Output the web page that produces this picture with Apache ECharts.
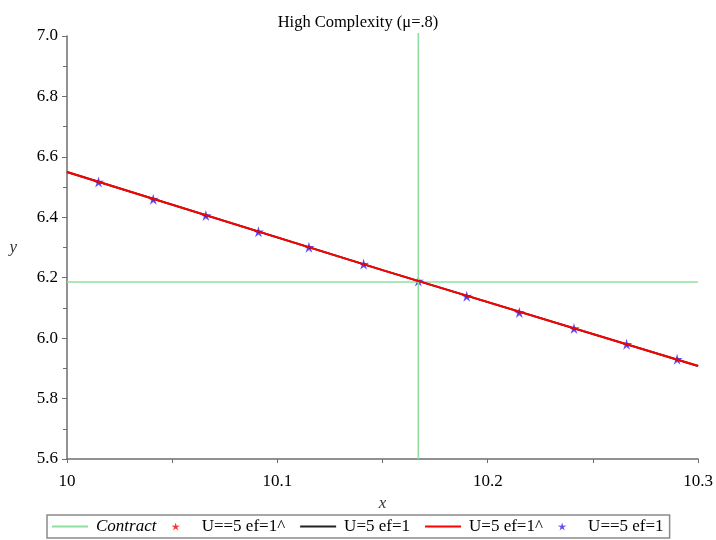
<!DOCTYPE html>
<html>
<head>
<meta charset="utf-8">
<script src="https://cdn.jsdelivr.net/npm/echarts@6/dist/echarts.min.js"></script>
<style>
  html, body { margin: 0; padding: 0; background: #fff; }
  #chart { width: 716px; height: 540px; }
</style>
</head>
<body>
<div id="chart"></div>
<script>
// Sample points (stars) along the curve
const starX = [10.015, 10.041, 10.066, 10.091, 10.115, 10.141, 10.167, 10.190, 10.215, 10.241, 10.266, 10.290];
const starY = [6.517, 6.460, 6.406, 6.352, 6.301, 6.245, 6.189, 6.139, 6.085, 6.032, 5.980, 5.930];

// Continuous curve
const curveX = [10.0, 10.15, 10.3];
const curveY = [6.550, 6.225, 5.908];

// Contract point
const contractX = 10.167;
const contractY = 6.186;

// Axis ranges
const xRange = [10.0, 10.3];
const yRange = [5.6, 7.0];

const FONT = '"Liberation Serif", "Times New Roman", serif';
const GREEN = '#8fe0a0';
const RED = '#ff0000';
const BLUE = '#3a22f0';

// Five-armed star, like a plotted asterisk
function starPath() {
  const pts = [];
  for (let i = 0; i < 10; i++) {
    const r = i % 2 === 0 ? 10 : 3.6;
    const a = -Math.PI / 2 + i * Math.PI / 5;
    pts.push((10 + r * Math.cos(a)).toFixed(2) + ' ' + (10 + r * Math.sin(a)).toFixed(2));
  }
  return 'path://M' + pts.join(' L') + ' Z';
}
const STAR = starPath();
const LINE_ICON = 'path://M0 0H36V2H0Z';

const pairs = (xs, ys) => xs.map((x, i) => [x, ys[i]]);

const chart = echarts.init(document.getElementById('chart'), null, { renderer: 'canvas' });

const axisColor = '#6e6e6e';

chart.setOption({
  animation: false,
  backgroundColor: '#fff',
  title: {
    text: 'High Complexity (\u03bc=.8)',
    left: 'center',
    top: 9,
    textStyle: { fontFamily: FONT, fontSize: 16.5, fontWeight: 'normal', color: '#000' }
  },
  grid: { left: 67, right: 14, top: 36, bottom: 81, containLabel: false },
  xAxis: {
    type: 'value',
    min: xRange[0], max: xRange[1], interval: 0.1,
    name: 'x', nameLocation: 'middle', nameGap: 34,
    nameTextStyle: { fontFamily: FONT, fontSize: 17, fontStyle: 'italic', color: '#333' },
    axisLine: { show: true, onZero: false, lineStyle: { color: axisColor, width: 1.5 } },
    axisTick: { show: true, length: 4, lineStyle: { color: axisColor } },
    minorTick: { show: true, splitNumber: 2, length: 4, lineStyle: { color: axisColor } },
    splitLine: { show: false },
    axisLabel: {
      fontFamily: FONT, fontSize: 17, color: '#000', margin: 14,
      formatter: v => (Math.abs(v - 10) < 1e-9 ? '10' : v.toFixed(1))
    }
  },
  yAxis: {
    type: 'value',
    min: yRange[0], max: yRange[1], interval: 0.2,
    name: 'y', nameLocation: 'middle', nameGap: 50, nameRotate: 0,
    nameTextStyle: { fontFamily: FONT, fontSize: 17, fontStyle: 'italic', color: '#333' },
    axisLine: { show: true, onZero: false, lineStyle: { color: axisColor, width: 1.5 } },
    axisTick: { show: true, length: 5, lineStyle: { color: axisColor } },
    minorTick: { show: true, splitNumber: 2, length: 4, lineStyle: { color: axisColor } },
    splitLine: { show: false },
    axisLabel: {
      fontFamily: FONT, fontSize: 17, color: '#000', margin: 9,
      formatter: v => v.toFixed(1)
    }
  },
  legend: {
    left: 47, top: 515,
    padding: [3, 6, 3, 5],
    itemGap: 15, itemWidth: 36, itemHeight: 8,
    borderColor: '#8a8a8a', borderWidth: 1.5,
    textStyle: { fontFamily: FONT, fontSize: 17, color: '#000', padding: [0, 0, 0, 3] },
    data: [
      { name: 'Contract', icon: LINE_ICON, textStyle: { fontStyle: 'italic' } },
      { name: 'U==5 ef=1^', icon: STAR, itemStyle: { color: RED } },
      { name: 'U=5 ef=1', icon: LINE_ICON },
      { name: 'U=5 ef=1^', icon: LINE_ICON },
      { name: 'U==5 ef=1', icon: STAR, itemStyle: { color: BLUE } }
    ]
  },
  series: [
    {
      name: 'Contract', type: 'line', symbol: 'none', silent: true, clip: false,
      lineStyle: { color: GREEN, width: 1.6 }, itemStyle: { color: GREEN },
      data: [[xRange[0], contractY], [xRange[1], contractY]]
    },
    {
      name: 'Contract', type: 'line', symbol: 'none', silent: true, clip: false,
      lineStyle: { color: GREEN, width: 1.6 }, itemStyle: { color: GREEN },
      data: [[contractX, yRange[0]], [contractX, yRange[1] + 0.01]]
    },
    {
      name: 'U=5 ef=1', type: 'line', symbol: 'none',
      lineStyle: { color: '#222', width: 2 }, itemStyle: { color: '#222' },
      data: pairs(curveX, curveY)
    },
    {
      name: 'U=5 ef=1^', type: 'line', symbol: 'none',
      lineStyle: { color: RED, width: 2 }, itemStyle: { color: RED },
      data: pairs(curveX, curveY)
    },
    {
      name: 'U==5 ef=1^', type: 'scatter', symbol: STAR, symbolSize: 5,
      itemStyle: { color: RED },
      data: pairs(starX, starY)
    },
    {
      name: 'U==5 ef=1', type: 'scatter', symbol: STAR, symbolSize: 11,
      itemStyle: { color: BLUE },
      data: pairs(starX, starY)
    }
  ]
});
</script>
</body>
</html>
